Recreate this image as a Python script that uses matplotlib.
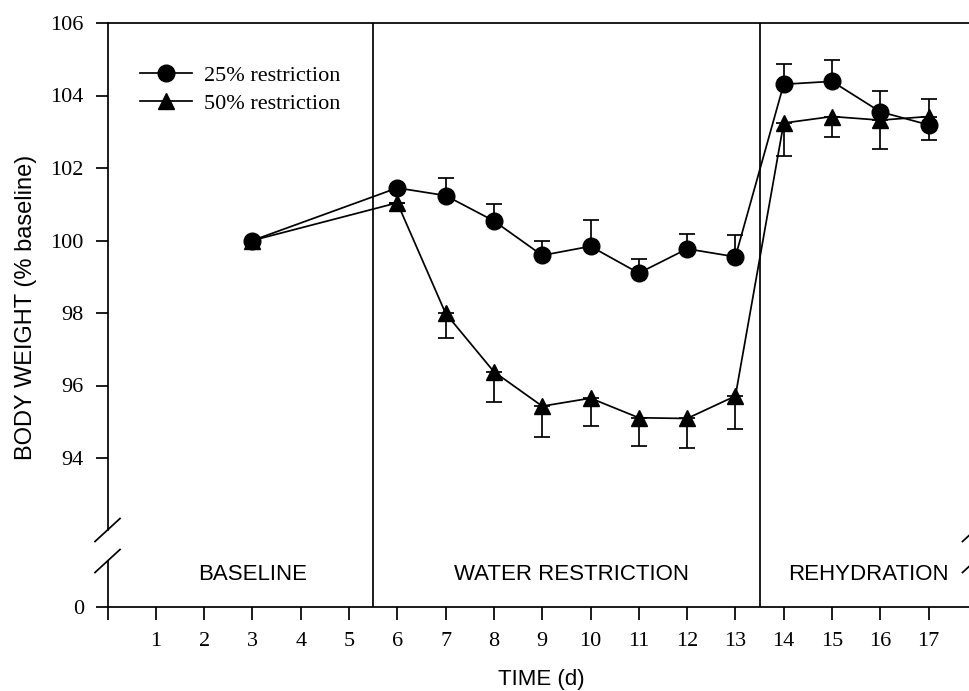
import matplotlib
matplotlib.use("Agg")
import matplotlib.pyplot as plt
from matplotlib.lines import Line2D

# ---------------- data ----------------
days = [3, 6, 7, 8, 9, 10, 11, 12, 13, 14, 15, 16, 17]
r25 = [100.0, 101.45, 101.24, 100.54, 99.59, 99.84, 99.10, 99.77, 99.55, 104.31, 104.39, 103.55, 103.19]
r25_err_up = [0, 0, 0.48, 0.46, 0.40, 0.72, 0.39, 0.40, 0.59, 0.55, 0.58, 0.58, 0]
r25_err_dn = [0, 0, 0, 0, 0, 0, 0, 0, 0, 0, 0, 0, 0.42]
r50 = [100.0, 101.04, 97.99, 96.38, 95.43, 95.65, 95.11, 95.09, 95.71, 103.24, 103.42, 103.32, 103.42]
r50_err_up = [0, 0, 0, 0, 0, 0, 0, 0, 0, 0, 0, 0, 0.48]
r50_err_dn = [0, 0, 0.67, 0.84, 0.85, 0.77, 0.79, 0.82, 0.91, 0.90, 0.57, 0.79, 0]
phase_names = ["BASELINE", "WATER RESTRICTION", "REHYDRATION"]
phase_bounds = [5.5, 13.5]
phase_label_x = [3.0, 9.6, 15.75]
x_ticks = list(range(0, 18))
x_ticklabels = [""] + [str(i) for i in range(1, 18)]
y_ticks_vals = [94, 96, 98, 100, 102, 104, 106]
series_labels = ["25% restriction", "50% restriction"]

# ---------------- layout ----------------
W, H = 969, 691
fig = plt.figure(figsize=(W / 100, H / 100), dpi=100)
left_px, right_px, top_px, bot_px = 107.5, 975.0, 23.0, 607.0
ax = fig.add_axes([left_px / W, 1 - bot_px / H, (right_px - left_px) / W, (bot_px - top_px) / H])

px_per_unit = (458 - 23) / 12.0
y_zero_pos = 94 - (bot_px - 458) / px_per_unit  # where the "0" tick sits on the broken axis
ax.set_ylim(y_zero_pos, 106)
x_max = (right_px - left_px) / 48.3
ax.set_xlim(0, x_max)

serif = "Liberation Serif"
sans = "Liberation Sans"
lw = 1.25
ms = 12

ek = dict(ecolor="black", elinewidth=lw, capsize=5.5, capthick=lw)
ax.errorbar(days, r50, yerr=[r50_err_dn, r50_err_up], fmt="-", color="black", lw=lw,
            marker="^", markersize=ms, mfc="black", mec="black", zorder=3, **ek)
ax.errorbar(days, r25, yerr=[r25_err_dn, r25_err_up], fmt="-", color="black", lw=lw,
            marker="o", markersize=ms, mfc="black", mec="black", zorder=4, **ek)

for b in phase_bounds:
    ax.axvline(b, color="black", lw=lw, zorder=1)

for name, xp in zip(phase_names, phase_label_x):
    ax.text(xp, 0.055, name, transform=ax.get_xaxis_transform(), ha="center", va="center",
            fontsize=16, family=sans)

# ticks
ax.set_xticks(x_ticks)
ax.set_xticklabels(x_ticklabels, family=serif, fontsize=16)
ax.set_yticks([y_zero_pos] + y_ticks_vals)
ax.set_yticklabels(["0"] + [str(v) for v in y_ticks_vals], family=serif, fontsize=16)
ax.tick_params(axis="x", direction="out", length=9, width=lw, pad=9)
ax.tick_params(axis="y", direction="out", length=9, width=lw, pad=8)

ax.set_xlabel("TIME (d)", family=sans, fontsize=16, labelpad=13)
ax.set_ylabel("BODY WEIGHT (% baseline)", family=sans, fontsize=17)
ah = bot_px - top_px
awid = right_px - left_px
ax.yaxis.set_label_coords((37 - left_px) / awid, (bot_px - 307) / ah)

# spines with break
ax.spines["right"].set_visible(False)
ax.spines["left"].set_visible(False)
ax.spines["top"].set_linewidth(lw)
ax.spines["bottom"].set_linewidth(lw)
gap_top = (bot_px - 530) / ah
gap_bot = (bot_px - 561) / ah
ax.add_line(Line2D([0, 0], [gap_top, 1], transform=ax.transAxes, color="black", lw=lw, clip_on=False))
ax.add_line(Line2D([0, 0], [0, gap_bot], transform=ax.transAxes, color="black", lw=lw, clip_on=False))
dx = 12.5 / awid
dy = 11.5 / ah
for xc in (0, 1):
    for yc in (gap_top, gap_bot):
        ax.add_line(Line2D([xc - dx, xc + dx], [yc - dy, yc + dy], transform=ax.transAxes,
                           color="black", lw=lw, clip_on=False))

# legend
handles = [Line2D([], [], color="black", lw=lw, marker="o", markersize=ms),
           Line2D([], [], color="black", lw=lw, marker="^", markersize=ms)]
leg = ax.legend(handles, series_labels, loc="upper left",
                bbox_to_anchor=((140 - left_px) / awid, (bot_px - 65) / ah),
                frameon=False, prop={"family": serif, "size": 16}, handlelength=2.35,
                handletextpad=0.55, labelspacing=0.35, borderpad=0, borderaxespad=0)

fig.savefig("out.png", dpi=100)
